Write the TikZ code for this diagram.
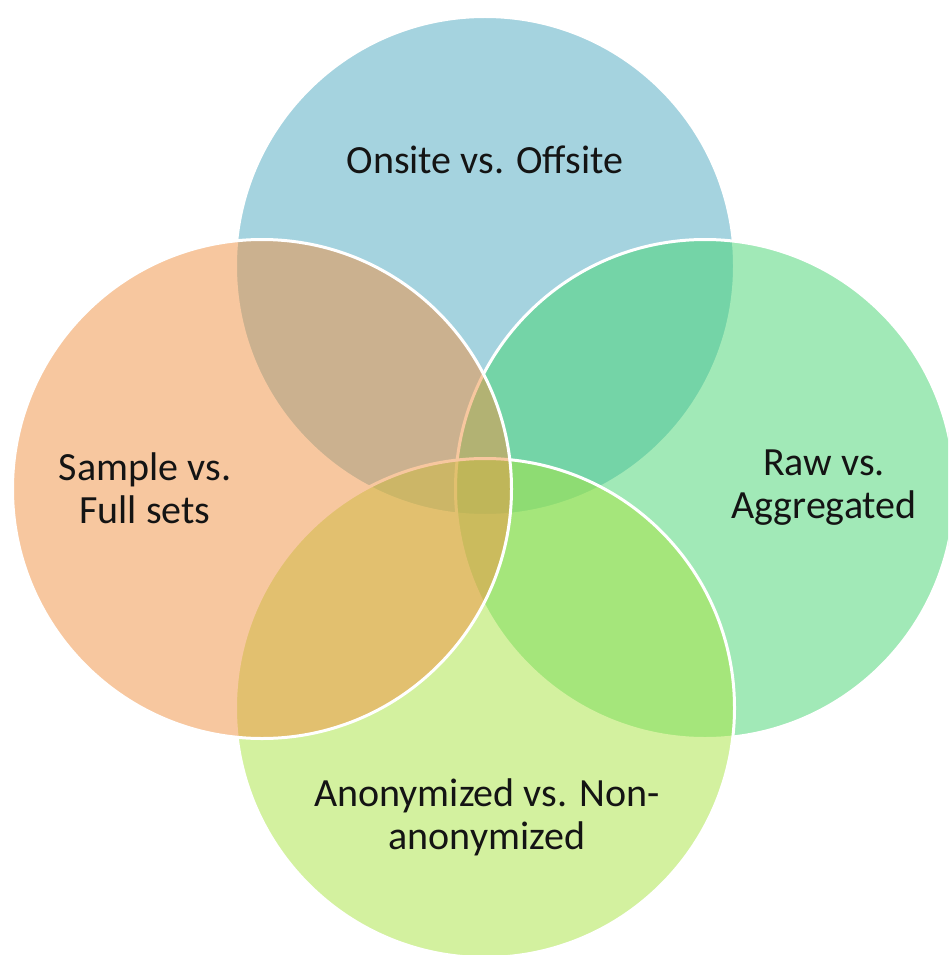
\documentclass[tikz,border=0pt]{standalone}
\usepackage{fontspec}
\setmainfont{Carlito}
\definecolor{cTop}{RGB}{77,169,193}
\definecolor{cRight}{RGB}{69,213,113}
\definecolor{cBottom}{RGB}{169,229,65}
\definecolor{cLeft}{RGB}{241,145,65}
\definecolor{txt}{RGB}{20,20,20}
\begin{document}
\begin{tikzpicture}[x=1pt,y=-1pt,
  venn/.style={circle, minimum size=499pt, inner sep=0pt, draw=white, line width=3pt, fill opacity=0.5},
  lbl/.style={align=center, text=txt, font=\fontsize{40}{43}\selectfont}]
\clip (0,0) rectangle (948,955);
\fill[white] (0,0) rectangle (948,955);
\node[venn, fill=cTop] (top) at (485,266) {};
\node[venn, fill=cRight] (right) at (705,489) {};
\node[venn, fill=cBottom] (bottom) at (485,708) {};
\node[venn, fill=cLeft] (left) at (262,489) {};
\node[lbl] (ttop) at (485,160) {Onsite vs. Offsite};
\node[lbl] (tleft) at (145,488) {Sample vs.\\Full sets};
\node[lbl] (tright) at (824,488) {Raw vs.\\Aggregated};
\node[lbl] (tbottom) at (487,817) {Anonymized vs. Non-\\anonymized};
\end{tikzpicture}
\end{document}
